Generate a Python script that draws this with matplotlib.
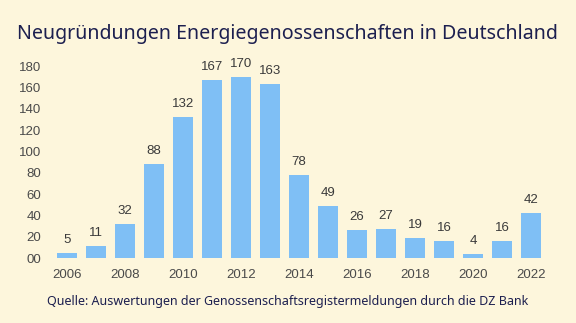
import matplotlib.pyplot as plt

years = list(range(2006, 2023))
counts = [5, 11, 32, 88, 132, 167, 170, 163, 78, 49, 26, 27, 19, 16, 4, 16, 42]
ytick_values = [0, 20, 40, 60, 80, 100, 120, 140, 160, 180]
ytick_labels = ["00", "20", "40", "60", "80", "100", "120", "140", "160", "180"]
xtick_years = [2006, 2008, 2010, 2012, 2014, 2016, 2018, 2020, 2022]

bg = "#fdf6dc"
navy = "#1c1f4f"
bar_color = "#7fbff5"
tick_color = "#4a4a4a"

fig = plt.figure(figsize=(5.76, 3.23), dpi=100, facecolor=bg)
ax = fig.add_axes([0.076, 0.201, 0.886, 0.594], facecolor=bg)

x = list(range(len(years)))
bars = ax.bar(x, counts, width=0.69, color=bar_color)
for xi, v in zip(x, counts):
    ax.annotate(str(v), (xi, v), xytext=(0, 5), textcoords="offset points",
                ha="center", va="bottom", fontsize=9.5, color="#3a3a3a",
                family="Liberation Sans")

ax.set_xlim(-0.8, 16.8)
ax.set_ylim(0, 180)
ax.set_yticks(ytick_values)
ax.set_yticklabels(ytick_labels)
ax.set_xticks([years.index(y) for y in xtick_years])
ax.set_xticklabels([str(y) for y in xtick_years])
ax.tick_params(axis="both", length=0, colors=tick_color, labelsize=9.5)
ax.tick_params(axis="x", pad=8)
ax.tick_params(axis="y", pad=2)
for lab in ax.get_xticklabels() + ax.get_yticklabels():
    lab.set_family("Liberation Sans")
for s in ax.spines.values():
    s.set_visible(False)

fig.text(0.499, 0.895, "Neugründungen Energiegenossenschaften in Deutschland",
         ha="center", va="center", fontsize=14.1, color=navy, family="Noto Sans")
fig.text(0.5, 0.068,
         "Quelle: Auswertungen der Genossenschaftsregistermeldungen durch die DZ Bank",
         ha="center", va="center", fontsize=9, color=navy, family="Noto Sans")

fig.savefig("out.png", dpi=100, facecolor=bg)
